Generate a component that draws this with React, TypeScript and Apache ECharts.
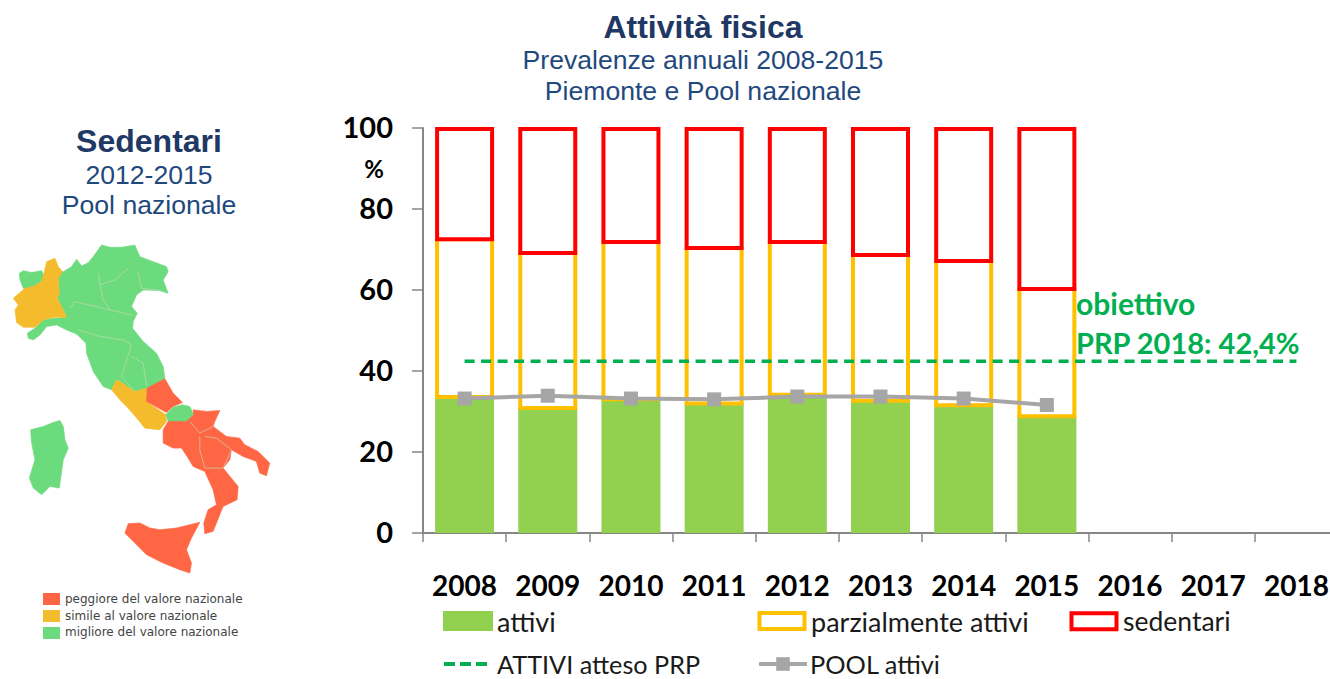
import React, { useEffect, useRef } from "react";
import * as echarts from "echarts";

const years = ["2008", "2009", "2010", "2011", "2012", "2013", "2014", "2015", "2016", "2017", "2018"];
const attivi = [33.8, 31.1, 33.3, 32.2, 34.4, 32.9, 31.8, 29.1];
const parziali = [39.0, 38.3, 38.8, 38.4, 37.7, 36.0, 35.6, 31.4];
const sedentari = [27.2, 30.6, 27.9, 29.4, 27.9, 31.1, 32.6, 39.5];
const atteso = [42.4, 42.4, 42.4, 42.4, 42.4, 42.4, 42.4, 42.4, 42.4, 42.4, 42.4];
const pool = [33.2, 33.9, 33.2, 33.0, 33.7, 33.7, 33.2, 31.6];

const MAP_GREEN = "#6BDB7D";
const MAP_ORANGE = "#F4BC2C";
const MAP_RED = "#FF6644";
const NAVY = "#1F3864";
const BLUE = "#1F497D";
const ORANGE = "#FFC000";
const RED = "#FF0000";
const GREEN = "#92D050";
const DASH = "#00B050";
const GREY = "#A6A6A6";
const AXIS = "#868686";

type Shape = { c: string; p: number[][] };
const regions: Shape[] = [
  { c: MAP_GREEN, p: [[58,130],[70,122],[95,128],[125,122],[135,145],[100,175],[70,175],[60,150]] },
  { c: MAP_GREEN, p: [[165,135],[190,125],[215,110],[230,88],[245,108],[265,98],[280,80],[305,45],[330,52],[365,52],[405,45],[420,80],[460,95],[500,110],[505,125],[490,150],[505,190],[480,182],[430,180],[410,195],[395,230],[412,250],[400,275],[398,295],[430,335],[470,370],[490,410],[495,445],[440,485],[405,485],[370,462],[350,450],[335,480],[310,470],[280,425],[260,370],[258,340],[230,312],[190,280],[165,265],[200,262],[172,205],[178,190],[175,145]] },
  { c: MAP_GREEN, p: [[85,325],[82,310],[105,295],[130,270],[165,264],[200,285],[230,312],[200,300],[170,285],[140,290],[120,315],[100,330]] },
  { c: MAP_ORANGE, p: [[140,95],[165,85],[175,110],[188,125],[175,145],[178,190],[172,205],[200,262],[160,262],[130,270],[105,292],[70,292],[50,278],[45,240],[55,225],[40,205],[75,175],[100,170],[125,155],[132,130]] },
  { c: MAP_ORANGE, p: [[350,450],[370,462],[405,485],[440,475],[440,515],[498,555],[500,575],[480,600],[435,595],[415,570],[385,535],[360,510],[335,480]] },
  { c: MAP_RED, p: [[495,447],[520,490],[548,518],[520,530],[500,548],[440,515],[442,475]] },
  { c: MAP_GREEN, p: [[548,525],[570,530],[582,555],[560,575],[505,575],[498,555],[520,532]] },
  { c: MAP_RED, p: [[580,540],[620,545],[660,542],[645,575],[640,590],[680,620],[720,625],[735,645],[775,665],[810,700],[800,738],[780,730],[770,695],[730,680],[695,660],[690,690],[670,715],[715,770],[712,810],[670,830],[640,905],[615,912],[612,880],[625,840],[650,825],[640,780],[615,725],[580,710],[562,680],[545,655],[520,655],[490,640],[490,600],[505,575],[560,575],[582,555]] },
  { c: MAP_RED, p: [[385,882],[420,880],[450,895],[480,900],[530,895],[600,878],[575,925],[560,960],[575,1000],[570,1030],[540,1020],[490,1000],[440,975],[400,935],[375,910]] },
  { c: MAP_GREEN, p: [[92,600],[130,590],[160,578],[180,572],[190,590],[195,630],[205,655],[190,690],[178,775],[150,770],[125,795],[100,775],[88,745],[105,690],[95,640]] },
];
const borders: number[][][] = [
  [[295,130],[300,165],[345,150],[385,115]],
  [[300,165],[310,210],[330,240],[395,255]],
  [[415,125],[425,175],[480,182]],
  [[210,235],[225,215],[330,240]],
  [[235,300],[300,320],[370,330],[395,345]],
  [[395,345],[365,440],[405,485]],
  [[395,380],[430,400],[440,470]],
  [[570,575],[600,610],[640,590]],
  [[600,620],[600,660],[615,715],[670,715],[695,660],[650,625],[615,620]],
];
const mapLegend = [
  { c: MAP_RED, t: "peggiore del valore nazionale" },
  { c: MAP_ORANGE, t: "simile al valore nazionale" },
  { c: MAP_GREEN, t: "migliore del valore nazionale" },
];

const labelFont = "Lato, sans-serif";
const titleFont = "'Liberation Sans', Arial, sans-serif";

function legendOne(name: string, left: number, centerY: number, itemWidth: number, itemHeight: number, font: number, pad: number, extra: object) {
  return {
    data: [name], left, top: centerY - font / 2, itemWidth, itemHeight, padding: 0, itemGap: 0,
    selectedMode: false,
    textStyle: { fontFamily: labelFont, fontSize: font, lineHeight: font, color: "#1a1a1a", padding: [0, 0, 0, pad] },
    ...extra,
  };
}
function caption(text: string, x: number, y: number, size: number, bold: boolean, color: string) {
  return {
    type: "text", x, y,
    style: { text, fontFamily: titleFont, fontSize: size, fontWeight: bold ? "bold" : "normal", fill: color, textAlign: "center", textVerticalAlign: "middle" },
  };
}
function outlinedBand(name: string, values: number[], base: number[], color: string) {
  return {
    name, type: "custom", clip: false, z: 3,
    encode: { x: 0, y: [1, 2] },
    itemStyle: { color: "#FFFFFF", borderColor: color, borderWidth: 4 },
    data: values.map((v, i) => [i, base[i], base[i] + v]),
    renderItem: (_p: any, api: any) => {
      const a = api.coord([api.value(0), api.value(1)]);
      const b = api.coord([api.value(0), api.value(2)]);
      return {
        type: "rect",
        shape: { x: a[0] - 27.5, y: b[1] + 1, width: 55, height: a[1] - b[1] },
        style: { fill: "#FFFFFF", stroke: color, lineWidth: 4 },
      };
    },
  };
}

export default function App() {
  const ref = useRef<HTMLDivElement>(null);
  useEffect(() => {
    document.body.style.margin = "0";
    const chart = echarts.init(ref.current!, undefined, { renderer: "svg" });
    const mapGroup = {
      type: "group", x: 0, y: 230, scaleX: 1 / 3, scaleY: 1 / 3,
      children: [
        ...regions.map((r) => ({ type: "polygon", shape: { points: r.p }, style: { fill: r.c, stroke: r.c, lineWidth: 2 } })),
        ...borders.map((b) => ({ type: "polyline", shape: { points: b }, style: { stroke: "#C9D8B8", lineWidth: 2, fill: "none" } })),
      ],
    };
    const baseOrange = attivi;
    const baseRed = attivi.map((v, i) => v + parziali[i]);
    chart.setOption({
      animation: false,
      grid: { left: 423, top: 128, width: 915, height: 405, containLabel: false },
      xAxis: {
        type: "category", data: years,
        axisLine: { show: true, lineStyle: { color: AXIS, width: 2 } },
        axisTick: { show: true, length: 9, lineStyle: { color: AXIS, width: 1.5 } },
        axisLabel: { fontFamily: labelFont, fontWeight: "bold", fontSize: 28, color: "#000", margin: 38, interval: 0 },
      },
      yAxis: {
        type: "value", min: 0, max: 100, interval: 20,
        splitLine: { show: false },
        axisLine: { show: true, lineStyle: { color: AXIS, width: 2 } },
        axisTick: { show: true, length: 11, lineStyle: { color: AXIS, width: 1.5 } },
        axisLabel: {
          margin: 30, formatter: "{a|{value}}",
          rich: { a: { fontFamily: labelFont, fontWeight: "bold", fontSize: 29, color: "#000", padding: [0, 0, 4, 0] } },
        },
      },
      legend: [
        legendOne("attivi", 443, 621, 50, 20, 27, -1, { icon: "rect", itemStyle: { color: GREEN, borderWidth: 0 } }),
        legendOne("parzialmente attivi", 757.5, 621, 45, 16, 27, 1.5, { icon: "rect", itemStyle: { color: "#fff", borderColor: ORANGE, borderWidth: 4 } }),
        legendOne("sedentari", 1069.5, 621, 45, 16, 26.5, 1.5, { icon: "rect", itemStyle: { color: "#fff", borderColor: RED, borderWidth: 4 } }),
        legendOne("ATTIVI atteso PRP", 442, 664, 46, 17, 25.2, 2, { itemStyle: { opacity: 0 }, lineStyle: { color: DASH, width: 4, type: [11, 5] } }),
        legendOne("POOL attivi", 757, 664, 48, 17, 25.4, -2, { lineStyle: { color: GREY, width: 4 } }),
      ],
      series: [
        { name: "attivi", type: "bar", barWidth: 59, data: attivi, z: 1, itemStyle: { color: GREEN } },
        outlinedBand("parzialmente attivi", parziali, baseOrange, ORANGE),
        outlinedBand("sedentari", sedentari, baseRed, RED),
        { name: "ATTIVI atteso PRP", type: "line", z: 4, data: atteso, symbol: "rect", showSymbol: false, lineStyle: { color: DASH, width: 3.5, type: [10, 6.5] }, itemStyle: { color: DASH } },
        { name: "POOL attivi", type: "line", z: 5, data: pool, symbol: "rect", symbolSize: 14, lineStyle: { color: GREY, width: 4 }, itemStyle: { color: GREY } },
      ],
      graphic: [
        mapGroup,
        ...mapLegend.flatMap((m, i) => [
          { type: "rect", shape: { x: 43, y: 593 + i * 17, width: 17, height: 12 }, style: { fill: m.c } },
          { type: "text", x: 65, y: 599 + i * 16.5, style: { text: m.t, fontFamily: "'DejaVu Sans', sans-serif", fontSize: 12, fill: "#444", textVerticalAlign: "middle" } },
        ]),
        caption("Attività fisica", 703, 27, 32, true, NAVY),
        caption("Prevalenze annuali 2008-2015", 703, 60, 26.6, false, BLUE),
        caption("Piemonte e Pool nazionale", 703, 91, 26.6, false, BLUE),
        caption("Sedentari", 149, 141, 32, true, NAVY),
        caption("2012-2015", 149, 175, 26.6, false, BLUE),
        caption("Pool nazionale", 149, 205, 26.6, false, BLUE),
        { type: "text", x: 374, y: 168, style: { text: "%", fontFamily: labelFont, fontWeight: "bold", fontSize: 24, fill: "#000", textAlign: "center", textVerticalAlign: "middle" } },
        { type: "text", x: 1076, y: 303, style: { text: "obiettivo", fontFamily: labelFont, fontWeight: "bold", fontSize: 30, fill: DASH, textVerticalAlign: "middle" } },
        { type: "text", x: 1076, y: 342, style: { text: "PRP 2018: 42,4%", fontFamily: labelFont, fontWeight: "bold", fontSize: 29, fill: DASH, textVerticalAlign: "middle" } },
      ],
    });
    return () => chart.dispose();
  }, []);
  return (
    <div style={{ position: "absolute", left: 0, top: 0, width: 1330, height: 679, overflow: "hidden" }}>
      <div ref={ref} style={{ width: 1345, height: 679 }} />
    </div>
  );
}
